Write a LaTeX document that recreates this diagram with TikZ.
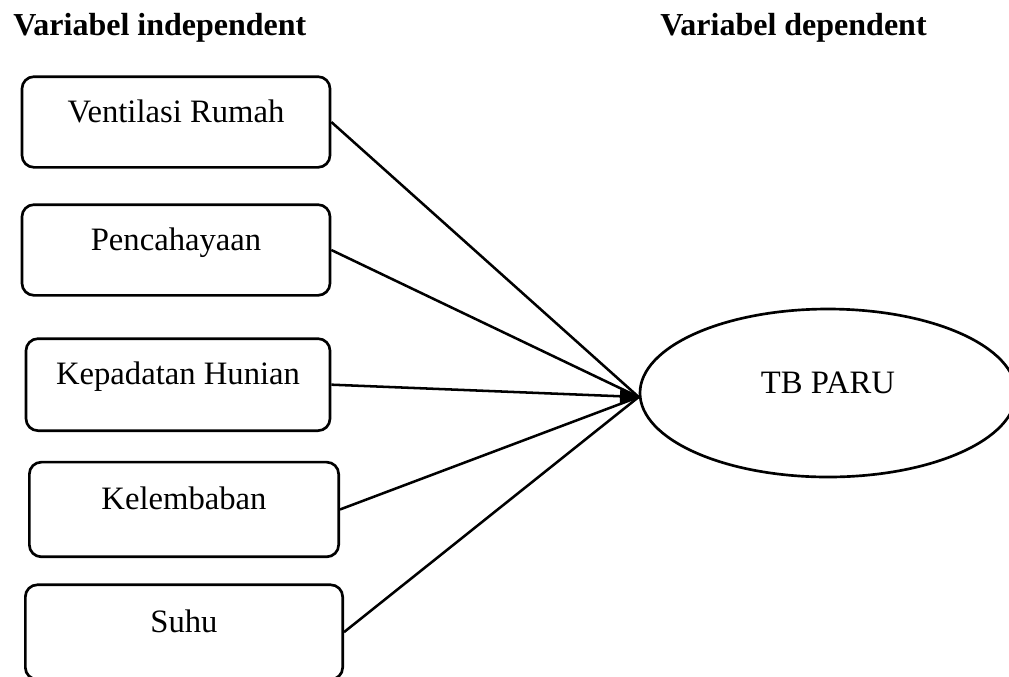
\documentclass[tikz,border=0pt]{standalone}
\usepackage{fontspec}
\setmainfont{Liberation Serif}
\usepackage{tikz}
\usetikzlibrary{arrows.meta, positioning, shapes.geometric}
\tikzstyle{varbox}  = [rectangle, rounded corners=9pt, minimum width=231pt,
    minimum height=68pt, text height=17pt, text depth=17pt, text centered,
    draw=black, line width=2pt, font=\fontsize{24.5}{28}\selectfont]
\tikzstyle{depvar}  = [ellipse, minimum width=282pt, minimum height=126pt,
    text height=17pt, text depth=17pt, draw=black, line width=2pt,
    font=\fontsize{24.5}{28}\selectfont]
\tikzstyle{heading} = [anchor=base west, inner sep=0pt,
    font=\fontsize{24}{28}\selectfont\bfseries]
\tikzstyle{link}    = [line width=1.9pt, draw=black]
\tikzstyle{arrow}   = [line width=1.9pt, -{Triangle[length=14pt,width=13pt]}, draw=black]
\begin{document}
\begin{tikzpicture}[x=0.75pt, y=-0.75pt, node distance=96pt]
    \useasboundingbox (0,0) rectangle (1009,676);
    \node (indep) [heading] at (13,35)  {Variabel independent};
    \node (dep)   [heading] at (660,35) {Variabel dependent};

    \node (vent)  [varbox] at (176,122)                              {Ventilasi Rumah};
    \node (cahaya)[varbox, below of=vent]                            {Pencahayaan};
    \node (padat) [varbox, below of=cahaya, xshift=1.5pt, yshift=-5pt,
                   minimum width=228pt, minimum height=69pt]         {Kepadatan Hunian};
    \node (lembab)[varbox, below of=padat, xshift=4.5pt, yshift=2.4pt,
                   minimum width=232pt, minimum height=71pt]         {Kelembaban};
    \node (suhu)  [varbox, below of=lembab, yshift=4pt,
                   minimum width=238pt, minimum height=71pt]         {Suhu};
    \node (paru)  [depvar] at (828,393)                              {TB PARU};

    \draw [link]  (vent.east)   -- ([yshift=-3pt]paru.west);
    \draw [link]  (cahaya.east) -- ([yshift=-3pt]paru.west);
    \draw [link]  (lembab.east) -- ([yshift=-3pt]paru.west);
    \draw [link]  (suhu.east)   -- ([yshift=-3pt]paru.west);
    \draw [arrow] (padat.east)  -- ([yshift=-3pt]paru.west);
\end{tikzpicture}
\end{document}
